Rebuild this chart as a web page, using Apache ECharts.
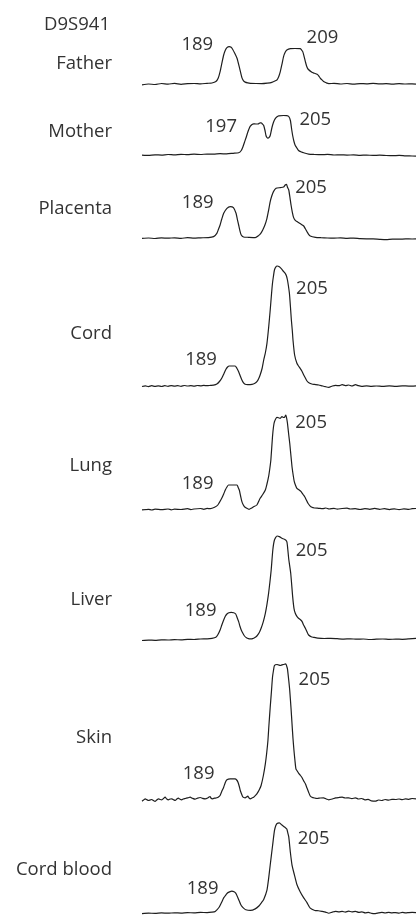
<!DOCTYPE html>
<html>
<head>
<meta charset="utf-8">
<script src="https://cdn.jsdelivr.net/npm/echarts@6/dist/echarts.min.js"></script>
<style>
  html, body { margin: 0; padding: 0; background: #ffffff; }
  #chart { width: 416px; height: 922px; }
</style>
</head>
<body>
<div id="chart"></div>
<script>
// ---------------- DATA ----------------
// Locus and samples
const locusName = 'D9S941';
const sampleNames = ['Father', 'Mother', 'Placenta', 'Cord', 'Lung', 'Liver', 'Skin', 'Cord blood'];
// Allele (size in bp) labels per sample
const sampleAlleles = [[189, 209], [197, 205], [189, 205], [189, 205], [189, 205], [189, 205], [189, 205], [189, 205]];

// Traces: [fragment size (bp), relative fluorescence]
const fatherTrace = [[162,-0.5],[164,0.3],[166,-0.2],[168,0.8],[170,0.2],[172,0.9],[174,0],[176,0.6],[178,0.8],[180,0.4],[182,1],[183.5,1.3],[184.7,2.7],[185.4,6],[186,12.7],[186.6,22],[187.1,29.3],[187.6,34],[188.1,36.7],[188.8,37.7],[189.4,37],[189.8,35.3],[190.5,31],[191.2,26],[192,16],[192.7,6.7],[193.2,3.5],[193.7,2.2],[194.5,1.4],[195.3,1],[197,0.8],[198.8,0.7],[200.5,1.2],[201.9,2],[203,3.5],[203.5,4.5],[204,7.5],[204.5,12.7],[205,20],[205.5,27.7],[206,32],[206.5,34.3],[207.6,35.7],[209,35.8],[210.6,35.7],[211,34.5],[211.4,32.7],[211.8,28],[212.2,22.7],[212.6,18],[213,15.3],[214.2,12],[215,11],[215.8,10],[216.3,8.5],[216.8,6],[217.3,4.5],[217.8,2.7],[218.6,1.5],[219.4,0.7],[221,0.9],[223,0.3],[225,0.8],[227,0.2],[229,0.7],[231,0.5],[233,1],[235,0.4],[237,0.6],[239,0.2],[241,0.7],[243,0.3],[245,0.5],[246.2,0.2]];

const motherTrace = [[162,-0.6],[164,-0.9],[166,-0.3],[168,-0.6],[170,0],[172,-0.4],[174,0.2],[176,-0.2],[178,0.3],[180,0],[182,0.5],[184,0.4],[186,0.8],[188,0.6],[190,1.2],[191.7,1.7],[192.5,4],[193,7.5],[193.5,12.3],[194,17],[194.5,22.3],[195,26.5],[195.3,28.3],[195.8,30],[196.3,30.7],[197,30.5],[197.8,30.7],[198.3,31.7],[198.6,31.7],[199,30.5],[199.4,29],[199.8,24],[200.1,19],[200.4,17],[200.7,16.3],[201,16.8],[201.4,19],[201.8,25],[202.1,29],[202.5,33],[202.9,35.7],[203.4,37.5],[204,38.7],[205.5,39],[206.5,38.8],[207.1,38],[207.6,34],[208,25],[208.3,19],[208.7,13],[209.1,9],[209.6,6.5],[210.1,4],[211,2.5],[211.7,1.7],[213.2,0.3],[215,0],[217,-0.2],[219,0.1],[221,-0.5],[223,-0.3],[225,-0.6],[227,-0.4],[229,-0.8],[231,-0.6],[233,-0.9],[235,-0.7],[237,-1],[239,-1.2],[241,-0.9],[243,-1.4],[245,-1.5],[246.2,-1.7]];

const placentaTrace = [[162,0],[164,0.3],[166,-0.2],[168,0.4],[170,0.1],[172,0.5],[174,0],[176,0.6],[178,0.2],[180,0.5],[182.4,0.7],[184,1.7],[185,5],[185.5,9],[186,13.3],[186.5,19],[187.1,25],[188.1,30],[189.1,31.7],[190.1,30.7],[190.9,25],[191.3,19],[191.7,13.3],[192.1,7.5],[192.5,3.3],[193.2,1.3],[194.7,1],[196.8,0.7],[197.8,2.7],[198.5,5],[199.1,8.3],[199.8,13.5],[200.4,20],[200.9,28],[201.4,36.7],[201.9,42.5],[202.4,46.7],[203.2,50],[204.5,50.7],[205.5,51.3],[206,53.3],[206.4,54],[206.7,51],[207.1,48.3],[207.5,40],[207.8,33.3],[208.2,26],[208.6,20.7],[209.1,18],[209.6,16.7],[210.3,15.3],[210.9,14],[211.7,12.3],[212.2,9.5],[212.7,6.7],[213.2,4],[213.7,2.3],[215.3,1],[217,0.6],[219,0.3],[221,0.2],[223,0.4],[225,0],[227,0.2],[229,-0.3],[231,-0.5],[233,-0.6],[235,-1],[237,-1.3],[239,-0.8],[241,-0.9],[243,-0.6],[245,-0.7],[246.2,-0.6]];

const cordTrace = [[162,-0.5],[163,0.2],[164,-0.6],[165,0.3],[166,-0.4],[167,0.2],[168,-0.5],[169,0.3],[170,-0.3],[171,0.4],[172,-0.2],[173,0.3],[174,-0.3],[175,0.5],[176,0],[177,0.4],[178,-0.1],[179,0.5],[180,0.2],[181,0.6],[182,0.3],[183,0.6],[184,0.9],[185,2],[185.8,4.5],[186.5,7.7],[187.2,12.5],[187.8,16.7],[188.3,19],[188.8,20],[190.6,20],[191.2,17.5],[191.7,14.3],[192.2,10],[192.7,6],[193.2,3.2],[193.7,1.7],[194.5,1.4],[195.8,1.7],[196.7,2.8],[197.3,4.3],[197.8,7],[198.3,11],[198.9,17.5],[199.4,26],[199.9,33],[200.4,42.7],[200.9,58],[201.4,76],[201.8,92],[202.1,102.7],[202.4,110],[202.7,116],[203.1,118.8],[203.5,120],[204.2,119.3],[205,116.7],[205.5,114.5],[206,112.7],[206.4,110],[206.7,106],[207,100],[207.3,92.7],[207.6,80],[207.9,66],[208.2,55],[208.4,46],[208.9,31],[209.6,22.7],[210.1,20],[210.6,17.7],[211.2,14.5],[211.7,11],[212.2,8],[212.7,5],[213.4,3],[214.2,2],[215,1.6],[216.3,1],[217.3,0.2],[218.3,-0.6],[219.4,-1.3],[220.5,0],[221.5,0.6],[222.5,0.3],[223.5,1.3],[224.5,0.4],[225.5,1],[226.5,0],[227.6,1.3],[228.5,0.3],[229.5,-0.4],[231,0.2],[232.5,-0.3],[234,0],[236,-0.4],[238,0.1],[240,-0.3],[242,0.2],[244,-0.1],[246.2,0.2]];

const lungTrace = [[162,-0.8],[164,-0.3],[165,-1],[166,-0.2],[168,-0.6],[170,0],[171,-0.8],[172,-0.2],[174,-0.5],[176,0.3],[177,-0.6],[178,0],[180,0.5],[181,-0.3],[182,0.6],[183,0.3],[184.3,1.7],[185.3,4],[186.5,10.7],[187.1,15],[187.6,19],[188.1,22],[188.6,24],[191.2,24],[191.5,22],[191.9,19],[192.3,13],[192.7,7.3],[193.1,4.2],[193.5,2.3],[194.2,0.7],[194.9,-0.3],[195.6,0.8],[196.3,2.3],[197.3,4],[198.3,10.7],[199.1,14.5],[199.9,19],[200.4,25],[200.9,32.3],[201.3,41],[201.6,49],[202.1,72.3],[202.4,82],[202.7,87.3],[203.5,91.7],[204.5,90.7],[205,92.3],[205.5,91.5],[205.8,91.7],[206.2,94],[206.5,90],[206.7,85.7],[207.1,74],[207.4,65.7],[208.1,42.3],[208.5,33],[208.8,27.3],[209.2,23.5],[209.6,20.7],[210.3,19],[210.9,17.3],[211.5,14.5],[212,12.3],[212.5,9],[213,5.7],[213.6,3.2],[214.2,1.7],[215,1],[216.3,0.7],[217.5,0.3],[218.5,1],[219.5,0],[221,0.6],[222,-0.2],[223.5,0.5],[225,0.8],[226,0],[227.5,0.3],[229,-0.5],[230.5,0.4],[232,-0.3],[233.5,0.6],[235,-0.3],[236.5,0.3],[238,-0.6],[239.5,0.2],[241,-0.7],[242.5,0.2],[244,-0.4],[245,0.3],[246.2,0.5]];

const liverTrace = [[162,-1.2],[164,-0.8],[166,-1],[168,-0.5],[170,-0.7],[172,-0.3],[174,-0.6],[176,0],[178,-0.2],[180,0.3],[182,0.5],[183.5,1],[184.7,2],[185.3,4.5],[186,9.3],[186.5,14],[187.1,19.3],[187.6,23],[188.1,25.3],[188.7,26.6],[189.4,27],[190.2,26.5],[190.8,25.3],[191.2,22],[191.7,17.7],[192.1,13],[192.5,9.3],[193,6],[193.5,3.3],[194.1,1.5],[194.7,0.7],[195.4,0.5],[196,0.7],[196.7,1.8],[197.3,3.3],[198,6.5],[198.6,11],[199.3,18],[199.9,26],[200.4,35],[200.9,46],[201.3,57],[201.7,69.3],[202.2,89.3],[202.7,99.3],[203.5,103.3],[204.2,102.7],[205,101],[205.8,100],[206.5,97.7],[206.8,90],[207.1,80],[207.7,66],[208.3,42.7],[208.7,31],[209.1,26],[209.6,23],[210.1,21],[210.7,19.5],[211.2,17.7],[211.7,14],[212.2,11],[212.7,7.5],[213.2,4.3],[214,2.5],[214.7,2],[216,1.2],[218,0.8],[220,1],[222,0.6],[224,0.2],[226,0.5],[228,0.1],[230,0.3],[232,-0.2],[234,0.1],[236,0.3],[238,-0.1],[240,0.2],[242,0],[244,0.4],[246.2,1]];

const skinTrace = [[162,-0.7],[162.5,0.5],[163,1.7],[163.5,0.8],[164,0],[164.5,0.5],[165,1],[165.5,0],[166,-1],[166.5,0.5],[167.1,1.7],[167.6,1],[168.1,0.7],[168.6,2],[169.1,3.3],[169.6,1.5],[170.1,0.7],[170.7,1.5],[171.2,1.7],[171.7,0.8],[172.2,0],[172.7,1.5],[173.2,2.3],[173.7,1.2],[174.2,0.7],[174.7,1.5],[175.3,2],[176,2.6],[176.8,3.3],[177.5,2.2],[178.3,1.3],[179.1,2.4],[179.9,3],[180.6,2.2],[181.4,1.7],[182.2,2.5],[182.9,4],[183.3,2],[183.7,1.7],[184.3,2.3],[185,2.7],[185.5,3.5],[186,5],[186.5,9],[187.1,13.3],[187.6,18],[188.1,20.7],[189.1,21.7],[190.6,21.7],[191.1,20.5],[191.5,18.3],[191.9,14],[192.2,10],[192.6,6.5],[192.9,4],[193.3,3],[193.7,2.7],[194.1,3.5],[194.5,4.3],[194.9,2.5],[195.3,1.7],[195.8,2.5],[196.3,3.3],[196.8,4.8],[197.3,6.7],[198,10.5],[198.6,15],[199.3,25],[199.9,36.7],[200.3,47],[200.7,60],[201,75],[201.4,93.3],[201.8,110],[202.1,123.3],[202.4,130],[202.7,135],[203.5,136],[204,135.5],[204.5,135],[205,135.6],[205.5,136],[206.2,136.7],[206.5,134],[206.7,131.7],[207.1,120],[207.4,110],[207.8,92],[208.1,76.7],[208.4,62],[208.7,50],[209,40],[209.3,31.7],[209.7,29.5],[210.1,27.3],[210.7,25],[211.2,22.7],[211.7,19.5],[212.2,16.7],[212.7,12.5],[213.2,8.3],[213.7,4.5],[214.2,3.3],[215,2.5],[215.8,2],[216.8,2.5],[217.8,2.7],[218.6,1.5],[219.4,0.7],[220.5,1.5],[221.5,2.6],[222.5,3],[223.5,3.3],[224.5,2.5],[225.5,2.7],[226.5,1.8],[227.6,2.7],[228.5,1.5],[229.5,2],[230.5,0.7],[231.5,1.2],[232.5,-0.3],[233.7,-0.7],[234.7,0.5],[235.7,0],[236.7,1],[237.8,0.3],[238.8,1.2],[239.9,1],[241,1.5],[242,0.8],[243,1.6],[244,1.2],[245,2],[246.2,1.7]];

const cordBloodTrace = [[162,-1],[164,-0.5],[166,-0.8],[168,-0.3],[170,-0.6],[172,-0.2],[174,-0.5],[176,0],[178,-0.3],[180,0.2],[182,0],[183.5,0.5],[184.5,1.3],[185.7,5.7],[186.4,10.5],[187.1,15.7],[187.8,19],[188.4,21.3],[189.6,23],[190.3,22.3],[190.8,20.7],[191.4,16.5],[191.9,12.3],[192.3,9],[192.7,6.7],[193.3,4.5],[193.9,3],[195.3,2.3],[196.8,4],[198,7.3],[198.7,10.5],[199.4,14],[200.4,24],[200.9,36],[201.4,50.7],[202.1,70.7],[202.7,87.3],[203.1,92.5],[203.5,95],[204.2,95.7],[205,93.3],[205.8,91.3],[206.5,89],[206.8,85],[207.1,80.7],[207.6,64],[208.1,50.7],[208.8,40.7],[209.6,30],[210.6,22.3],[211.7,15.7],[212.7,10.7],[213.7,4.7],[215.1,2.3],[216.2,2],[217.3,1.3],[218.4,0.5],[219.4,-0.7],[220.5,0.6],[221.5,1.4],[222.5,0.8],[223.5,1.3],[224.5,0.6],[225.5,1.5],[226.5,0.8],[227.6,1.3],[228.6,0.2],[229.6,0.8],[230.6,-0.3],[231.6,0.2],[232.6,-0.8],[233.7,-1],[234.7,-0.3],[235.7,0.2],[236.7,-0.4],[237.8,0.3],[238.8,-0.2],[239.9,0],[241,-0.5],[242,0.2],[243,-0.3],[244,0],[245,0.2],[246.2,0]];

const traces = [fatherTrace, motherTrace, placentaTrace, cordTrace, lungTrace, liverTrace, skinTrace, cordBloodTrace];

// ---------------- LAYOUT (pixels) ----------------
const sizeMin = 162, sizeMax = 246.2;
const plotLeft = 142, plotWidth = 274;
const baselineY = [84.3, 154.5, 238.3, 386, 509, 639.3, 800.5, 919];
const panelMax = [50, 50, 62, 130, 104, 112, 142, 104];
const panelMin = -10;
const nameRight = 112;
const textShiftY = 1.5;
const nameCenterY = [62, 130, 207, 332, 464.2, 598.3, 736.7, 868.3];
const locusCenterY = 23.3;
// label offset (px) from the peak top that the allele label belongs to
const alleleLabelOffset = [
  [[-31.9, -2.9], [27.5, -12.5]],
  [[-39, 2.2], [31.7, 2.8]],
  [[-32.5, -4.9], [24.6, 1.7]],
  [[-28.2, -7.7], [34.9, 21.3]],
  [[-30.9, -3], [25.3, 6.7]],
  [[-30.5, -3.5], [34.6, 13.3]],
  [[-31.6, -6.3], [28.6, 14.2]],
  [[-29.2, -3.7], [34.3, 14.7]]
];

const FONT = '"Open Sans", Lato, sans-serif';
const FONT_SIZE = 18.5;
const TEXT_COLOR = '#333333';
const LINE_COLOR = '#1e1e1e';

function peakTop(trace, allele) {
  let best = null;
  for (const p of trace) {
    if (Math.abs(p[0] - allele) <= 3.6) {
      if (!best || p[1] > best[1]) best = p;
    }
  }
  return best;
}

const grids = [], xAxes = [], yAxes = [], series = [];
traces.forEach((tr, i) => {
  grids.push({
    left: plotLeft, width: plotWidth,
    top: baselineY[i] - panelMax[i],
    height: panelMax[i] - panelMin
  });
  xAxes.push({ type: 'value', gridIndex: i, min: sizeMin, max: sizeMax, show: false });
  yAxes.push({ type: 'value', gridIndex: i, min: panelMin, max: panelMax[i], show: false });
  const mp = sampleAlleles[i].map((a, k) => {
    const top = peakTop(tr, a);
    const off = alleleLabelOffset[i][k];
    return {
      coord: [top[0], top[1]],
      value: String(a),
      label: { offset: [off[0], off[1] + textShiftY] }
    };
  });
  series.push({
    type: 'line',
    name: sampleNames[i],
    xAxisIndex: i, yAxisIndex: i,
    data: tr,
    showSymbol: false,
    smooth: 0.2,
    lineStyle: { color: LINE_COLOR, width: 1.2 },
    silent: true,
    clip: false,
    markPoint: {
      symbol: 'circle',
      symbolSize: 1,
      itemStyle: { color: 'rgba(0,0,0,0)' },
      label: {
        show: true, position: 'inside', formatter: '{c}',
        color: TEXT_COLOR, fontSize: FONT_SIZE, fontFamily: FONT
      },
      data: mp
    }
  });
});

const graphics = [{
  type: 'text', x: nameRight - 2, y: locusCenterY + textShiftY,
  style: { text: locusName, textAlign: 'right', textVerticalAlign: 'middle', fontSize: FONT_SIZE, fontFamily: FONT, fill: TEXT_COLOR }
}];
sampleNames.forEach((n, i) => {
  graphics.push({
    type: 'text', x: nameRight, y: nameCenterY[i] + textShiftY,
    style: { text: n, textAlign: 'right', textVerticalAlign: 'middle', fontSize: FONT_SIZE, fontFamily: FONT, fill: TEXT_COLOR }
  });
});

const chart = echarts.init(document.getElementById('chart'), null, { renderer: 'canvas' });
chart.setOption({
  animation: false,
  backgroundColor: '#ffffff',
  grid: grids,
  xAxis: xAxes,
  yAxis: yAxes,
  series: series,
  graphic: graphics
});
</script>
</body>
</html>
